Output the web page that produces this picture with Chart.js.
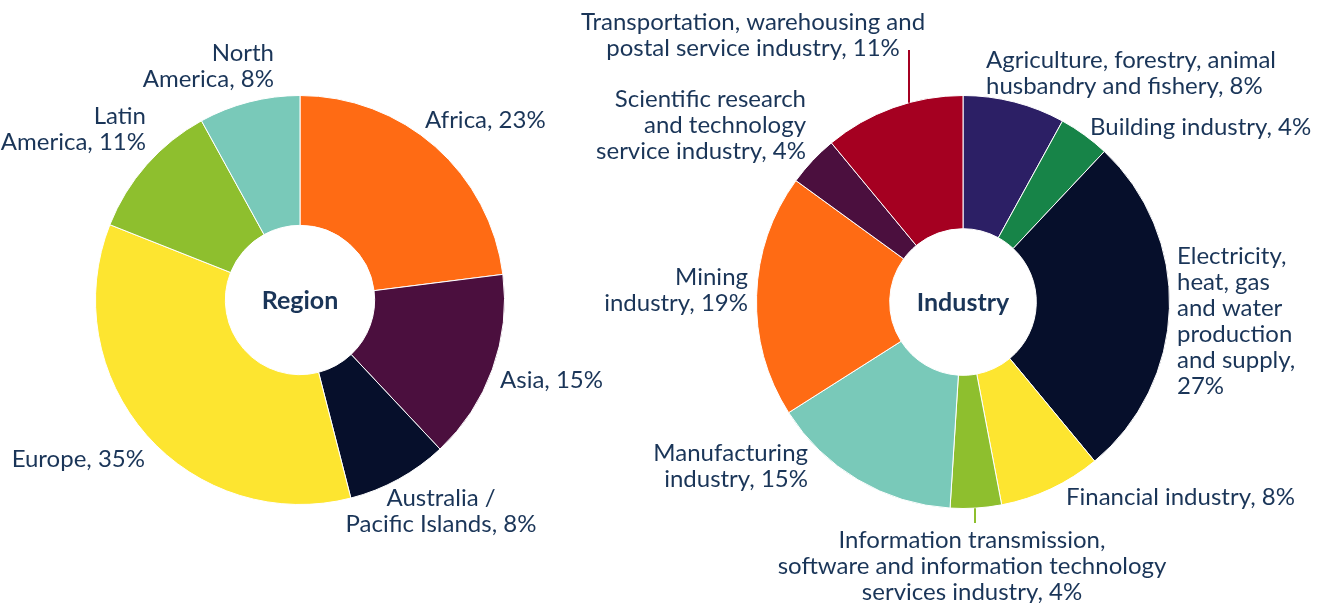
<!DOCTYPE html>
<html>
<head>
<meta charset="utf-8">
<script src="https://cdn.jsdelivr.net/npm/chart.js@4"></script>
<style>
  body { margin: 0; background: #fff; }
  .wrap { position: relative; width: 1332px; height: 603px; }
  canvas { position: absolute; top: 0; }
</style>
</head>
<body>
<div class="wrap">
  <canvas id="regionChart" width="640" height="603" style="left:0"></canvas>
  <canvas id="industryChart" width="772" height="603" style="left:560px"></canvas>
</div>
<script>
// region data
const regionNames = ["Africa", "Asia", "Australia / Pacific Islands", "Europe", "Latin America", "North America"];
const regionValues = [23, 15, 8, 35, 11, 8];
const regionColors = ["#FF6B14", "#4B0F3E", "#060F2B", "#FDE530", "#8EBF2E", "#79C9B9"];
// how each label breaks into lines ({v} = value)
const regionLines = [
  ["Africa, {v}%"],
  ["Asia, {v}%"],
  ["Australia /", "Pacific Islands, {v}%"],
  ["Europe, {v}%"],
  ["Latin", "America, {v}%"],
  ["North", "America, {v}%"],
];

// industry data
const industryNames = [
  "Agriculture, forestry, animal husbandry and fishery",
  "Building industry",
  "Electricity, heat, gas and water production and supply",
  "Financial industry",
  "Information transmission, software and information technology services industry",
  "Manufacturing industry",
  "Mining industry",
  "Scientific research and technology service industry",
  "Transportation, warehousing and postal service industry",
];
const industryValues = [8, 4, 27, 8, 4, 15, 19, 4, 11];
const industryColors = ["#2C1F65", "#178448", "#060F2B", "#FDE530", "#8EBF2E", "#79C9B9", "#FF6B14", "#4B0F3E", "#A50021"];
const industryLines = [
  ["Agriculture, forestry, animal", "husbandry and fishery, {v}%"],
  ["Building industry, {v}%"],
  ["Electricity,", "heat, gas", "and water", "production", "and supply,", "{v}%"],
  ["Financial industry, {v}%"],
  ["Information transmission,", "software and information technology", "services industry, {v}%"],
  ["Manufacturing", "industry, {v}%"],
  ["Mining", "industry, {v}%"],
  ["Scientific research", "and technology", "service industry, {v}%"],
  ["Transportation, warehousing and", "postal service industry, {v}%"],
];

const textColor = "#1A3558";
const fontFamily = "Lato, 'Open Sans', sans-serif";
const lineH = 26;

// label anchors relative to the chart centre: [dx, dy of first line, align]
const regionLabelPos = [
  [125, -180, "left"],
  [200, 80, "left"],
  [141, 198, "center"],
  [-155, 159, "right"],
  [-154, -184, "right"],
  [-26, -247, "right"],
];
const industryLabelPos = [
  [23, -242, "left"],
  [127, -175, "left"],
  [214, -46, "left"],
  [103, 195, "left"],
  [9, 238, "center"],
  [-155, 151, "right"],
  [-215, -25, "right"],
  [-157, -203, "right"],
  [-210, -280, "center"],
];
// vertical leader lines: [slice index, dx from centre, end dy]
const industryLeaders = [
  [8, -54, -252],
  [4, 12, 221],
];

function labelPlugin(title, lines, values, pos, leaders) {
  return {
    id: "labels",
    afterDraw(chart) {
      const ctx = chart.ctx;
      const arc0 = chart.getDatasetMeta(0).data[0];
      const cx = arc0.x, cy = arc0.y, R = arc0.outerRadius;
      ctx.save();
      ctx.fillStyle = textColor;
      ctx.textBaseline = "middle";
      ctx.textAlign = "center";
      ctx.font = "bold 25px " + fontFamily;
      ctx.fillText(title, cx, cy + 1);

      ctx.font = "24px " + fontFamily;
      lines.forEach((ls, i) => {
        const [dx, dy, align] = pos[i];
        ctx.textAlign = align;
        ls.forEach((t, j) => {
          ctx.fillText(t.replace("{v}", values[i]), cx + dx, cy + dy + j * lineH);
        });
      });

      (leaders || []).forEach(([idx, dx, endDy]) => {
        const edge = Math.sqrt(R * R - dx * dx);
        const startY = endDy < 0 ? cy - edge : cy + edge;
        ctx.strokeStyle = chart.data.datasets[0].backgroundColor[idx];
        ctx.lineWidth = 2;
        ctx.beginPath();
        ctx.moveTo(cx + dx, startY);
        ctx.lineTo(cx + dx, cy + endDy);
        ctx.stroke();
      });
      ctx.restore();
    },
  };
}

function makeDoughnut(id, names, values, colors, cutout, padding, plugin) {
  return new Chart(document.getElementById(id), {
    type: "doughnut",
    data: {
      labels: names,
      datasets: [{
        data: values,
        backgroundColor: colors,
        borderColor: "#ffffff",
        borderWidth: 1,
      }],
    },
    options: {
      responsive: false,
      animation: false,
      cutout: cutout,
      layout: { padding: padding },
      plugins: { legend: { display: false }, tooltip: { enabled: false } },
    },
    plugins: [plugin],
  });
}

makeDoughnut("regionChart", regionNames, regionValues, regionColors, "36.5%",
  { left: 95, right: 135, top: 95, bottom: 98 },
  labelPlugin("Region", regionLines, regionValues, regionLabelPos));

makeDoughnut("industryChart", industryNames, industryValues, industryColors, "35.5%",
  { left: 196, right: 162, top: 95, bottom: 94 },
  labelPlugin("Industry", industryLines, industryValues, industryLabelPos, industryLeaders));
</script>
</body>
</html>
